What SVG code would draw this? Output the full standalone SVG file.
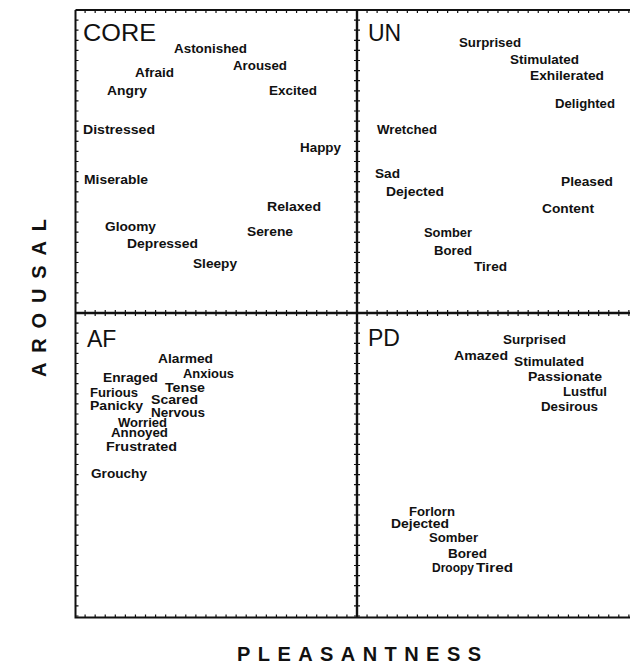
<svg xmlns="http://www.w3.org/2000/svg" width="630" height="665" viewBox="0 0 630 665">
<style>
  .w { font-family: "Liberation Sans", Arial, sans-serif; font-weight: bold; font-size: 13.5px; fill: #111; }
  .q { font-family: "Liberation Sans", Arial, sans-serif; font-size: 23px; fill: #111; }
  .ax { font-family: "Liberation Sans", Arial, sans-serif; font-weight: bold; font-size: 20px; fill: #111; }
  .frame { fill: none; stroke: #111; stroke-width: 2; }
  .mid { fill: none; stroke: #111; stroke-width: 2.4; }
  .th { fill: none; stroke: #111; stroke-dasharray: 1.2 8.87; }
  .tv { fill: none; stroke: #111; stroke-dasharray: 1.2 8.9; }
</style>
<rect width="630" height="665" fill="#fff"/>
<g id="axes">
  <path class="frame" d="M75.5 10 H630 M75.5 10 V617.5 H630"/>
  <path class="mid" d="M357 10 V617.5 M75.5 313 H630"/>
  <line class="th" x1="84.5" y1="11.5" x2="630" y2="11.5" stroke-width="3"/>
  <line class="th" x1="84.5" y1="616" x2="630" y2="616" stroke-width="3"/>
  <line class="th" x1="84.5" y1="313" x2="630" y2="313" stroke-width="6"/>
  <line class="tv" x1="77" y1="19.5" x2="77" y2="617" stroke-width="3"/>
  <line class="tv" x1="357" y1="19.5" x2="357" y2="617" stroke-width="6"/>
  <text class="ax" transform="translate(46,298) rotate(-90)" text-anchor="middle" textLength="158" lengthAdjust="spacing">AROUSAL</text>
  <text class="ax" x="237" y="661" textLength="244" lengthAdjust="spacing">PLEASANTNESS</text>
</g>
<g id="core">
  <text class="q" x="83" y="41" textLength="73" lengthAdjust="spacingAndGlyphs">CORE</text>
  <g lengthAdjust="spacingAndGlyphs">
  <text class="w" x="174" y="52.5" textLength="73" lengthAdjust="spacingAndGlyphs">Astonished</text>
  <text class="w" x="233" y="70" textLength="54" lengthAdjust="spacingAndGlyphs">Aroused</text>
  <text class="w" x="135" y="77" textLength="39" lengthAdjust="spacingAndGlyphs">Afraid</text>
  <text class="w" x="107" y="94.5" textLength="40" lengthAdjust="spacingAndGlyphs">Angry</text>
  <text class="w" x="269" y="95" textLength="48" lengthAdjust="spacingAndGlyphs">Excited</text>
  <text class="w" x="83" y="134" textLength="72" lengthAdjust="spacingAndGlyphs">Distressed</text>
  <text class="w" x="300" y="151.5" textLength="41" lengthAdjust="spacingAndGlyphs">Happy</text>
  <text class="w" x="84" y="184" textLength="64" lengthAdjust="spacingAndGlyphs">Miserable</text>
  <text class="w" x="267" y="210.5" textLength="54" lengthAdjust="spacingAndGlyphs">Relaxed</text>
  <text class="w" x="105" y="231" textLength="51" lengthAdjust="spacingAndGlyphs">Gloomy</text>
  <text class="w" x="247" y="236" textLength="46" lengthAdjust="spacingAndGlyphs">Serene</text>
  <text class="w" x="127" y="248" textLength="71" lengthAdjust="spacingAndGlyphs">Depressed</text>
  <text class="w" x="193" y="268" textLength="44" lengthAdjust="spacingAndGlyphs">Sleepy</text>
  </g>
</g>
<g id="un">
  <text class="q" x="368" y="41">UN</text>
  <text class="w" x="459" y="46.5" textLength="62" lengthAdjust="spacingAndGlyphs">Surprised</text>
  <text class="w" x="510" y="64" textLength="69" lengthAdjust="spacingAndGlyphs">Stimulated</text>
  <text class="w" x="530" y="80" textLength="74" lengthAdjust="spacingAndGlyphs">Exhilerated</text>
  <text class="w" x="555" y="108" textLength="60" lengthAdjust="spacingAndGlyphs">Delighted</text>
  <text class="w" x="377" y="134" textLength="60" lengthAdjust="spacingAndGlyphs">Wretched</text>
  <text class="w" x="375" y="178" textLength="25" lengthAdjust="spacingAndGlyphs">Sad</text>
  <text class="w" x="386" y="196" textLength="58" lengthAdjust="spacingAndGlyphs">Dejected</text>
  <text class="w" x="561" y="186" textLength="52" lengthAdjust="spacingAndGlyphs">Pleased</text>
  <text class="w" x="542" y="213" textLength="52" lengthAdjust="spacingAndGlyphs">Content</text>
  <text class="w" x="424" y="236.5" textLength="48" lengthAdjust="spacingAndGlyphs">Somber</text>
  <text class="w" x="434" y="255" textLength="38" lengthAdjust="spacingAndGlyphs">Bored</text>
  <text class="w" x="474" y="271" textLength="33" lengthAdjust="spacingAndGlyphs">Tired</text>
</g>
<g id="af">
  <text class="q" x="87" y="347">AF</text>
  <text class="w" x="158" y="363" textLength="55" lengthAdjust="spacingAndGlyphs">Alarmed</text>
  <text class="w" x="103" y="381.5" textLength="55" lengthAdjust="spacingAndGlyphs">Enraged</text>
  <text class="w" x="183" y="377.5" textLength="51" lengthAdjust="spacingAndGlyphs">Anxious</text>
  <text class="w" x="165" y="391.5" textLength="40" lengthAdjust="spacingAndGlyphs">Tense</text>
  <text class="w" x="90" y="397" textLength="48" lengthAdjust="spacingAndGlyphs">Furious</text>
  <text class="w" x="151" y="404" textLength="47" lengthAdjust="spacingAndGlyphs">Scared</text>
  <text class="w" x="90" y="410" textLength="53" lengthAdjust="spacingAndGlyphs">Panicky</text>
  <text class="w" x="151" y="416.5" textLength="54" lengthAdjust="spacingAndGlyphs">Nervous</text>
  <text class="w" x="118" y="427" textLength="49" lengthAdjust="spacingAndGlyphs">Worried</text>
  <text class="w" x="111" y="437" textLength="57" lengthAdjust="spacingAndGlyphs">Annoyed</text>
  <text class="w" x="106" y="450.5" textLength="71" lengthAdjust="spacingAndGlyphs">Frustrated</text>
  <text class="w" x="91" y="477.5" textLength="56" lengthAdjust="spacingAndGlyphs">Grouchy</text>
</g>
<g id="pd">
  <text class="q" x="368" y="346">PD</text>
  <text class="w" x="503" y="343.5" textLength="63" lengthAdjust="spacingAndGlyphs">Surprised</text>
  <text class="w" x="454" y="360" textLength="54" lengthAdjust="spacingAndGlyphs">Amazed</text>
  <text class="w" x="514" y="365.5" textLength="70" lengthAdjust="spacingAndGlyphs">Stimulated</text>
  <text class="w" x="528" y="380.5" textLength="74" lengthAdjust="spacingAndGlyphs">Passionate</text>
  <text class="w" x="563" y="395.5" textLength="44" lengthAdjust="spacingAndGlyphs">Lustful</text>
  <text class="w" x="541" y="411" textLength="57" lengthAdjust="spacingAndGlyphs">Desirous</text>
  <text class="w" x="409" y="515.5" textLength="46" lengthAdjust="spacingAndGlyphs">Forlorn</text>
  <text class="w" x="391" y="528" textLength="58" lengthAdjust="spacingAndGlyphs">Dejected</text>
  <text class="w" x="429" y="542" textLength="49" lengthAdjust="spacingAndGlyphs">Somber</text>
  <text class="w" x="448" y="557.5" textLength="39" lengthAdjust="spacingAndGlyphs">Bored</text>
  <text class="w" x="432" y="572" textLength="42" lengthAdjust="spacingAndGlyphs">Droopy</text>
  <text class="w" x="476" y="572" textLength="37" lengthAdjust="spacingAndGlyphs">Tired</text>
</g>
</svg>
